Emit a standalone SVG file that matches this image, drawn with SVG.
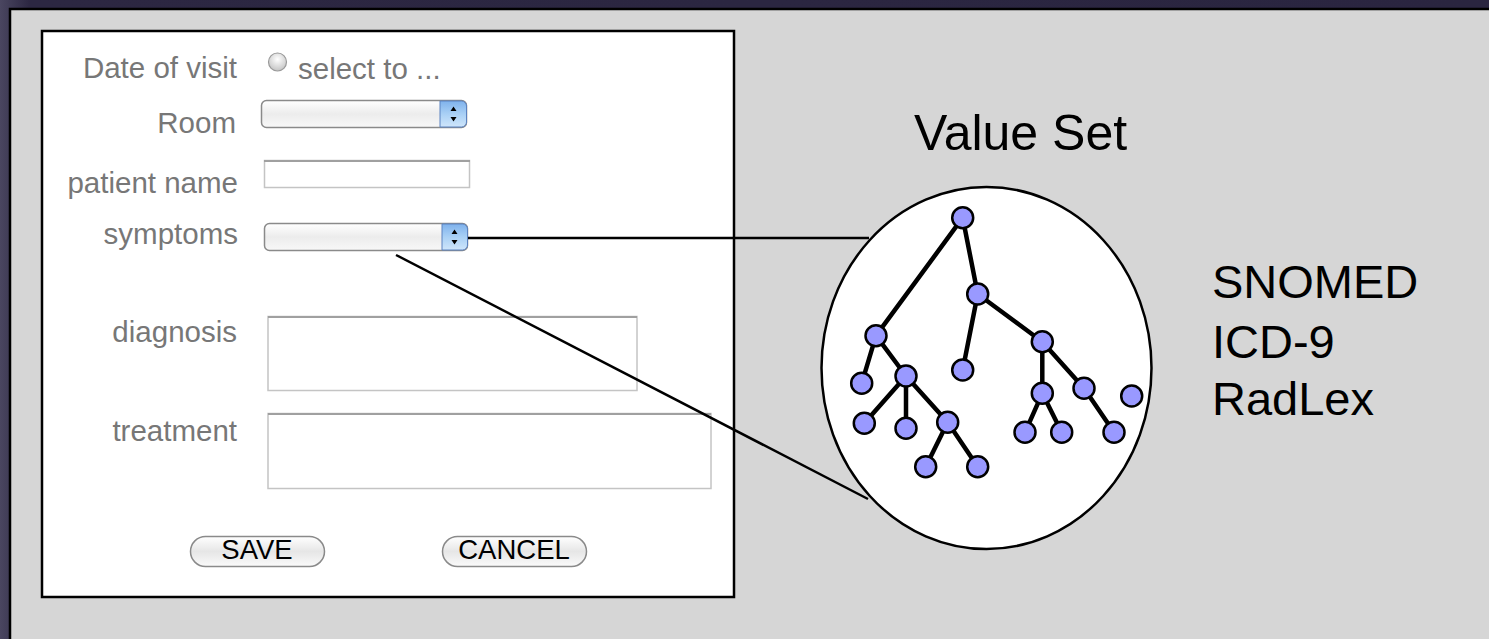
<svg xmlns="http://www.w3.org/2000/svg" width="1489" height="639" viewBox="0 0 1489 639">
<defs>
<linearGradient id="bg" x1="0" y1="0" x2="1" y2="0">
<stop offset="0" stop-color="#4a4660"/><stop offset="0.02" stop-color="#2c2742"/><stop offset="1" stop-color="#2a2540"/>
</linearGradient>
<linearGradient id="sel" x1="0" y1="0" x2="0" y2="1">
<stop offset="0" stop-color="#ffffff"/><stop offset="0.5" stop-color="#ececec"/><stop offset="1" stop-color="#f8f8f8"/>
</linearGradient>
<linearGradient id="step" x1="0" y1="0" x2="0" y2="1">
<stop offset="0" stop-color="#7fb2ec"/><stop offset="0.5" stop-color="#a9d0f5"/><stop offset="1" stop-color="#cfe6fb"/>
</linearGradient>
<linearGradient id="btn" x1="0" y1="0" x2="0" y2="1">
<stop offset="0" stop-color="#ffffff"/><stop offset="0.5" stop-color="#e6e6e6"/><stop offset="1" stop-color="#fafafa"/>
</linearGradient>
<radialGradient id="radio" cx="0.5" cy="0.35" r="0.6">
<stop offset="0" stop-color="#ffffff"/><stop offset="1" stop-color="#c8c8c8"/>
</radialGradient>
</defs>
<style>
.lbl{font-family:"Liberation Sans",Arial,sans-serif;font-size:29.5px;fill:#777777;text-anchor:end}
.val{font-family:"Liberation Sans",Arial,sans-serif;font-size:29.5px;fill:#777777}
.btxt{font-family:"Liberation Sans",Arial,sans-serif;font-size:27.5px;fill:#000000;text-anchor:middle}
.big{font-family:"Liberation Sans",Arial,sans-serif;fill:#000000}
.selbox{fill:url(#sel);stroke:#8a8a8a;stroke-width:1.5}
.stepper{fill:url(#step);stroke:#5b82c0;stroke-width:1}
.field{fill:#ffffff;stroke:#c4c4c4;stroke-width:1.5}
.fieldtop{stroke:#a0a0a0;stroke-width:2}
.button{fill:url(#btn);stroke:#8a8a8a;stroke-width:1.5}
.conn{stroke:#000000;stroke-width:2.5;fill:none}
.edge{stroke:#000000;stroke-width:4.5;stroke-linecap:round}
.tn{fill:#9999ff;stroke:#000000;stroke-width:2.5}
</style>
<rect x="0" y="0" width="1489" height="639" fill="url(#bg)"/>
<rect x="10" y="9" width="1479" height="630" fill="#d6d6d6"/>
<path d="M10,639 V9 H1489" fill="none" stroke="#000000" stroke-width="2.5"/>
<g id="form">
<rect x="42" y="31" width="692" height="566" fill="#ffffff" stroke="#000000" stroke-width="2.5"/>
</g>
<g id="date-of-visit">
<text class="lbl" x="237" y="78">Date of visit</text>
<circle cx="277.5" cy="62" r="9" fill="url(#radio)" stroke="#9a9a9a" stroke-width="1.2"/>
<text class="val" x="298" y="79">select to ...</text>
</g>
<g id="room">
<text class="lbl" x="236" y="133">Room</text>
<rect class="selbox" x="261.5" y="100.5" width="205" height="27" rx="5"/>
<path class="stepper" d="M440,101 H461.5 A5,5 0 0 1 466.5,106 V122 A5,5 0 0 1 461.5,127 H440 Z"/>
<path d="M450.5,111 L453.5,106.5 L456.5,111 Z M450.5,117 L453.5,121.5 L456.5,117 Z" fill="#000"/>
</g>
<g id="patient-name">
<text class="lbl" x="238" y="193">patient name</text>
<rect class="field" x="264.5" y="160.5" width="205" height="27"/>
<line class="fieldtop" x1="264" y1="161" x2="470" y2="161"/>
</g>
<g id="symptoms">
<text class="lbl" x="238" y="244">symptoms</text>
<rect class="selbox" x="264.5" y="223.5" width="203" height="27" rx="5"/>
<path class="stepper" d="M442,224 H462.5 A5,5 0 0 1 467.5,229 V245 A5,5 0 0 1 462.5,250 H442 Z"/>
<path d="M451.5,234 L454.5,229.5 L457.5,234 Z M451.5,240 L454.5,244.5 L457.5,240 Z" fill="#000"/>
</g>
<g id="diagnosis">
<text class="lbl" x="237" y="342">diagnosis</text>
<rect class="field" x="268" y="316.5" width="369" height="74"/>
<line class="fieldtop" x1="268" y1="317" x2="637" y2="317"/>
</g>
<g id="treatment">
<text class="lbl" x="237" y="441">treatment</text>
<rect class="field" x="268" y="413.5" width="443" height="75"/>
<line class="fieldtop" x1="268" y1="414" x2="711" y2="414"/>
</g>
<g id="save-button">
<rect class="button" x="190.5" y="536.5" width="134" height="30" rx="15"/>
<text class="btxt" x="257" y="559">SAVE</text>
</g>
<g id="cancel-button">
<rect class="button" x="442.5" y="536.5" width="144" height="30" rx="15"/>
<text class="btxt" x="514" y="559">CANCEL</text>
</g>
<g id="value-set-label">
<text class="big" x="914" y="150" font-size="50">Value Set</text>
</g>
<g id="value-set">
<ellipse cx="986.5" cy="368" rx="165" ry="181" fill="#ffffff" stroke="#000000" stroke-width="2.5"/>
<g id="tree-edges">
<line class="edge" x1="962.7" y1="217.7" x2="876" y2="335.7"/>
<line class="edge" x1="962.7" y1="217.7" x2="977.7" y2="294"/>
<line class="edge" x1="977.7" y1="294" x2="962.7" y2="370"/>
<line class="edge" x1="977.7" y1="294" x2="1042.3" y2="341.7"/>
<line class="edge" x1="876" y1="335.7" x2="861.7" y2="383.3"/>
<line class="edge" x1="876" y1="335.7" x2="906" y2="376"/>
<line class="edge" x1="906" y1="376" x2="864.3" y2="423.3"/>
<line class="edge" x1="906" y1="376" x2="906" y2="428.3"/>
<line class="edge" x1="906" y1="376" x2="947.7" y2="422.3"/>
<line class="edge" x1="947.7" y1="422.3" x2="925.7" y2="466.7"/>
<line class="edge" x1="947.7" y1="422.3" x2="977.7" y2="466.7"/>
<line class="edge" x1="1042.3" y1="341.7" x2="1042.3" y2="393.3"/>
<line class="edge" x1="1042.3" y1="341.7" x2="1084" y2="388.3"/>
<line class="edge" x1="1042.3" y1="393.3" x2="1025" y2="432.3"/>
<line class="edge" x1="1042.3" y1="393.3" x2="1061.7" y2="432.3"/>
<line class="edge" x1="1084" y1="388.3" x2="1114" y2="432.3"/>
</g>
<g id="tree-nodes">
<circle class="tn" cx="962.7" cy="217.7" r="10.5"/>
<circle class="tn" cx="977.7" cy="294" r="10.5"/>
<circle class="tn" cx="876" cy="335.7" r="10.5"/>
<circle class="tn" cx="962.7" cy="370" r="10.5"/>
<circle class="tn" cx="1042.3" cy="341.7" r="10.5"/>
<circle class="tn" cx="861.7" cy="383.3" r="10.5"/>
<circle class="tn" cx="906" cy="376" r="10.5"/>
<circle class="tn" cx="864.3" cy="423.3" r="10.5"/>
<circle class="tn" cx="906" cy="428.3" r="10.5"/>
<circle class="tn" cx="947.7" cy="422.3" r="10.5"/>
<circle class="tn" cx="925.7" cy="466.7" r="10.5"/>
<circle class="tn" cx="977.7" cy="466.7" r="10.5"/>
<circle class="tn" cx="1042.3" cy="393.3" r="10.5"/>
<circle class="tn" cx="1084" cy="388.3" r="10.5"/>
<circle class="tn" cx="1131.7" cy="396" r="10.5"/>
<circle class="tn" cx="1025" cy="432.3" r="10.5"/>
<circle class="tn" cx="1061.7" cy="432.3" r="10.5"/>
<circle class="tn" cx="1114" cy="432.3" r="10.5"/>
</g>
</g>
<g id="terminologies">
<text class="big" x="1212" y="298" font-size="47">SNOMED</text>
<text class="big" x="1212" y="358" font-size="47">ICD-9</text>
<text class="big" x="1212" y="415" font-size="47">RadLex</text>
</g>
<g id="connectors">
<line class="conn" x1="468" y1="238" x2="869" y2="238"/>
<line class="conn" x1="396" y1="255" x2="868" y2="499"/>
</g>
</svg>
